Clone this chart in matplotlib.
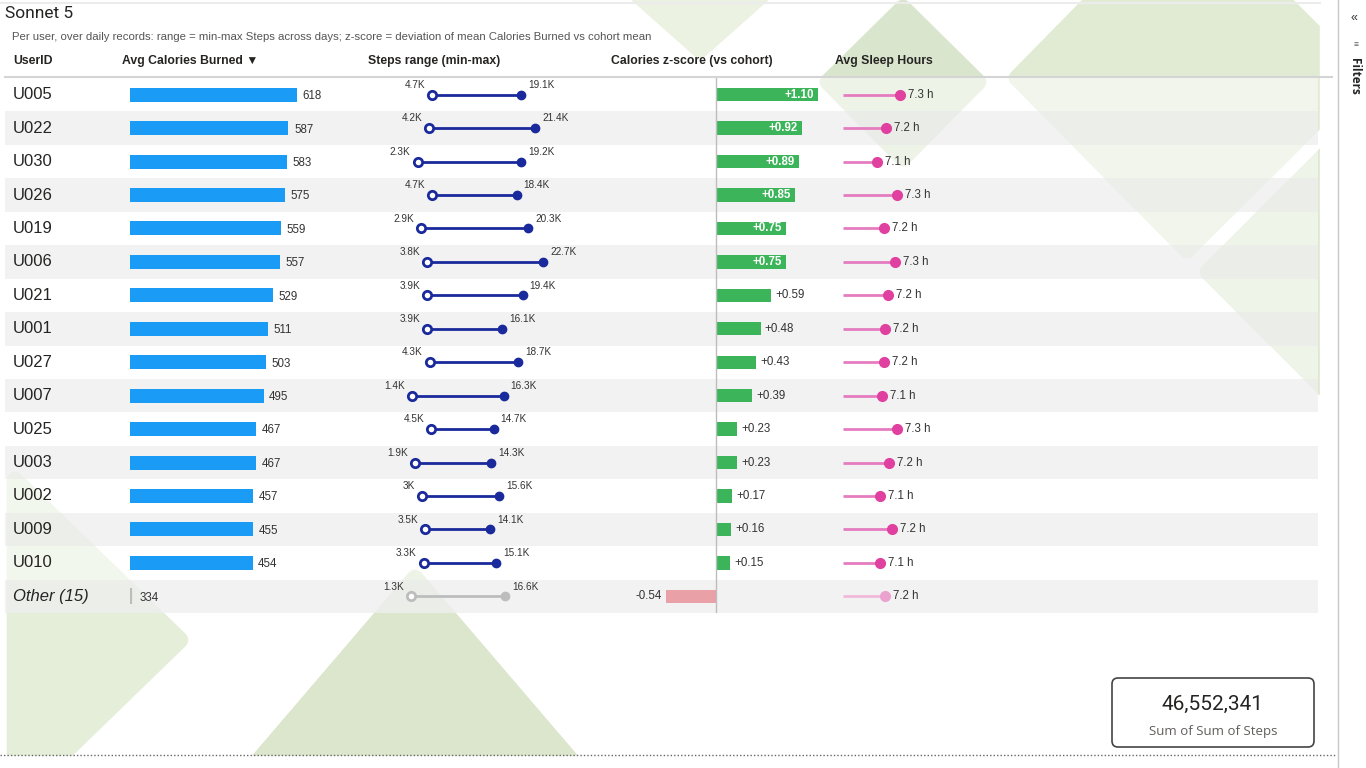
import matplotlib
matplotlib.use('Agg')
import matplotlib.pyplot as plt
from matplotlib.patches import Polygon, FancyBboxPatch, Rectangle

# ---- data ----
users = ['U005', 'U022', 'U030', 'U026', 'U019', 'U006', 'U021', 'U001',
         'U027', 'U007', 'U025', 'U003', 'U002', 'U009', 'U010', 'Other (15)']
avg_calories = [618, 587, 583, 575, 559, 557, 529, 511, 503, 495, 467, 467, 457, 455, 454, 334]
steps_min = [4700, 4200, 2300, 4700, 2900, 3800, 3900, 3900, 4300, 1400, 4500, 1900, 3000, 3500, 3300, 1300]
steps_max = [19100, 21400, 19200, 18400, 20300, 22700, 19400, 16100, 18700, 16300, 14700, 14300, 15600, 14100, 15100, 16600]
cal_z = [1.10, 0.92, 0.89, 0.85, 0.75, 0.75, 0.59, 0.48, 0.43, 0.39, 0.23, 0.23, 0.17, 0.16, 0.15, -0.54]
avg_sleep = [7.32, 7.18, 7.09, 7.29, 7.16, 7.27, 7.20, 7.17, 7.16, 7.14, 7.29, 7.21, 7.12, 7.24, 7.12, 7.17]
total_steps = 46552341

headers = ['UserID', 'Avg Calories Burned \u25bc', 'Steps range (min-max)',
           'Calories z-score (vs cohort)', 'Avg Sleep Hours']

SLEEP_BASE = 6.75  # left end of the sleep lollipop scale

plt.rcParams['font.family'] = ['Liberation Sans', 'DejaVu Sans']

W, H = 1366, 768
fig = plt.figure(figsize=(W / 100, H / 100), dpi=100)
fig.patch.set_facecolor('white')


def px_axes(x0, y0, x1, y1, z=1):
    ax = fig.add_axes([x0 / W, 1 - y1 / H, (x1 - x0) / W, (y1 - y0) / H], zorder=z)
    ax.set_axis_off()
    ax.patch.set_alpha(0)
    return ax


n = len(users)
other = n - 1
ROW_TOP, ROW_BOT = 78, 613
TXT = '#333333'

# ---- background canvas (decorative shapes) ----
bg = px_axes(0, 0, W, H, z=0)
bg.set_xlim(0, W)
bg.set_ylim(H, 0)
shapes = [
    ([(1017, 78), (1187, -95), (1360, 78), (1187, 250)], '#e1ebd4'),
    ([(1208, 272), (1330, 150), (1452, 272), (1330, 394)], '#dde8cf'),
    ([(828, 82), (903, 8), (978, 82), (903, 158)], '#d9e5cc'),
    ([(610, -30), (700, -120), (790, -30), (700, 50)], '#ebf2e2'),
    ([(415, 578), (225, 800), (605, 800)], '#dbe6cd'),
    ([(15, 480), (180, 640), (15, 800)], '#e4eed8'),
]
for pts, c in shapes:
    bg.add_patch(Polygon(pts, closed=True, facecolor=c, edgecolor=c, lw=12,
                         joinstyle='round', zorder=1))
bg.add_patch(Rectangle((0, 756), W, 20, color='white', zorder=2))
bg.add_patch(Rectangle((1320, 0), 60, H, color='white', zorder=2))
bg.plot([0, 1336], [755, 755], color='#666666', lw=1, ls=(0, (1, 1.5)), zorder=3)
bg.plot([1338, 1338], [0, H], color='#c8c8c8', lw=1, zorder=3)
bg.plot([0, 1320], [3, 3], color='#ececec', lw=1.5, zorder=3)
bg.text(1354, 18, '\u00ab', fontsize=9, ha='center', va='center', color='#333333', zorder=4)
bg.text(1356, 45, '\u2261', fontsize=6, ha='center', va='center', color='#555555', zorder=4)
bg.text(1354, 76, 'Filters', fontsize=8.5, rotation=-90, ha='center', va='center',
        color='#252423', fontweight='bold', family=['Open Sans', 'DejaVu Sans'], zorder=4)

# titles
bg.text(5, 14, 'Sonnet 5', fontsize=12.5, va='center', color='#252423',
        family=['Roboto', 'DejaVu Sans'], zorder=4)
bg.text(12, 37, 'Per user, over daily records: range = min-max Steps across days; '
        'z-score = deviation of mean Calories Burned vs cohort mean',
        fontsize=8.2, va='center', color='#555555', zorder=4)
for hx, label in zip([13, 122, 368, 611, 835], headers):
    bg.text(hx, 61, label, fontsize=8.8, fontweight='bold', va='center',
            color='#252423', zorder=4)
bg.plot([5, 1332], [77, 77], color='#d4d4d4', lw=1.5, zorder=3)

# KPI card
bg.add_patch(FancyBboxPatch((1112, 678), 202, 69, boxstyle='round,pad=0,rounding_size=6',
                            facecolor='white', edgecolor='#444444', lw=1.2, zorder=4))
bg.text(1213, 704, f'{total_steps:,}', fontsize=15, ha='center', va='center',
        color='#252423', family=['Roboto', 'DejaVu Sans'], zorder=5)
bg.text(1213, 732, 'Sum of Sum of Steps', fontsize=9.5, ha='center', va='center',
        color='#605e5c', family=['Open Sans', 'DejaVu Sans'], zorder=5)

# ---- row stripes ----
st = px_axes(5, ROW_TOP, 1318, ROW_BOT, z=1)
st.set_xlim(0, 1)
st.set_ylim(n - 0.5, -0.5)
for i in range(n):
    if i % 2:
        st.axhspan(i - 0.5, i + 0.5, color='#efefef', alpha=0.8, lw=0)
    else:
        st.axhspan(i - 0.5, i + 0.5, color='white', alpha=0.55, lw=0)

# ---- user labels ----
lab = px_axes(5, ROW_TOP, 120, ROW_BOT, z=2)
lab.set_xlim(0, 115)
lab.set_ylim(n - 0.5, -0.5)
for i, u in enumerate(users):
    lab.text(8, i, u, fontsize=12, va='center', color='#252423',
             style='italic' if i == other else 'normal')

# ---- avg calories bars ----
ax1 = px_axes(130, ROW_TOP, 330, ROW_BOT, z=2)
ax1.set_xlim(0, 200 / 0.27)
ax1.set_ylim(n - 0.5, -0.5)
top = list(range(other))
ax1.barh(top, avg_calories[:other], height=0.42, color='#1a9bf5')
ax1.plot([0], [other], marker='|', ms=11, mew=3, color='#bdbdbd')
for i, v in enumerate(avg_calories):
    x = 0 if i == other else v
    off = 7 if i == other else 4
    ax1.annotate(f'{v}', (x, i), xytext=(off, -1), textcoords='offset points',
                 va='center', ha='left', fontsize=8.3, color=TXT)

# ---- steps range dumbbells ----
ax2 = px_axes(380, ROW_TOP, 600, ROW_BOT, z=2)
ax2.set_xlim((380 - 403.4) / 6.15 * 1000, (600 - 403.4) / 6.15 * 1000)
ax2.set_ylim(n - 0.5, -0.5)


def fmt_k(v):
    s = f'{v / 1000:.1f}'
    if s.endswith('.0'):
        s = s[:-2]
    return s + 'K'


for i in range(n):
    c = '#bdbdbd' if i == other else '#1a2a9c'
    ax2.hlines(i, steps_min[i], steps_max[i], color=c, lw=2)
    ax2.plot(steps_min[i], i, 'o', ms=6, mfc='white', mec=c, mew=2)
    ax2.plot(steps_max[i], i, 'o', ms=6, color=c)
    ax2.annotate(fmt_k(steps_min[i]), (steps_min[i], i), xytext=(-5, 7),
                 textcoords='offset points', ha='right', va='center', fontsize=7.2, color=TXT)
    ax2.annotate(fmt_k(steps_max[i]), (steps_max[i], i), xytext=(5, 7),
                 textcoords='offset points', ha='left', va='center', fontsize=7.2, color=TXT)

# ---- calories z-score bars ----
ax3 = px_axes(600, ROW_TOP, 830, ROW_BOT, z=2)
ax3.set_xlim((600 - 716) / 93, (830 - 716) / 93)
ax3.set_ylim(n - 0.5, -0.5)
ax3.axvline(0, color='#bdbdbd', lw=1)
zcol = ['#3cb55a' if z >= 0 else '#e9a0a6' for z in cal_z]
ax3.barh(range(n), cal_z, height=0.4, color=zcol)
for i, z in enumerate(cal_z):
    s = f'{z:+.2f}'
    if z >= 0.7:
        ax3.annotate(s, (z, i), xytext=(-3, 0), textcoords='offset points', ha='right',
                     va='center', fontsize=8.3, color='white', fontweight='bold')
    elif z >= 0:
        ax3.annotate(s, (z, i), xytext=(3, 0), textcoords='offset points', ha='left',
                     va='center', fontsize=8.3, color=TXT)
    else:
        ax3.annotate(s, (z, i), xytext=(-3, 0), textcoords='offset points', ha='right',
                     va='center', fontsize=8.3, color=TXT)

# ---- avg sleep lollipops ----
ax4 = px_axes(840, ROW_TOP, 1000, ROW_BOT, z=2)
ax4.set_xlim(SLEEP_BASE - 0.03, SLEEP_BASE + 1.57)
ax4.set_ylim(n - 0.5, -0.5)
for i, v in enumerate(avg_sleep):
    lc, dc = ('#f2b9da', '#eba2cf') if i == other else ('#e57cc0', '#e0409f')
    ax4.hlines(i, SLEEP_BASE, v, color=lc, lw=2)
    ax4.plot(v, i, 'o', ms=7, color=dc)
    ax4.annotate(f'{v:.1f} h', (v, i), xytext=(6, 0), textcoords='offset points',
                 ha='left', va='center', fontsize=8.3, color=TXT)

fig.savefig('out.png', dpi=100)
